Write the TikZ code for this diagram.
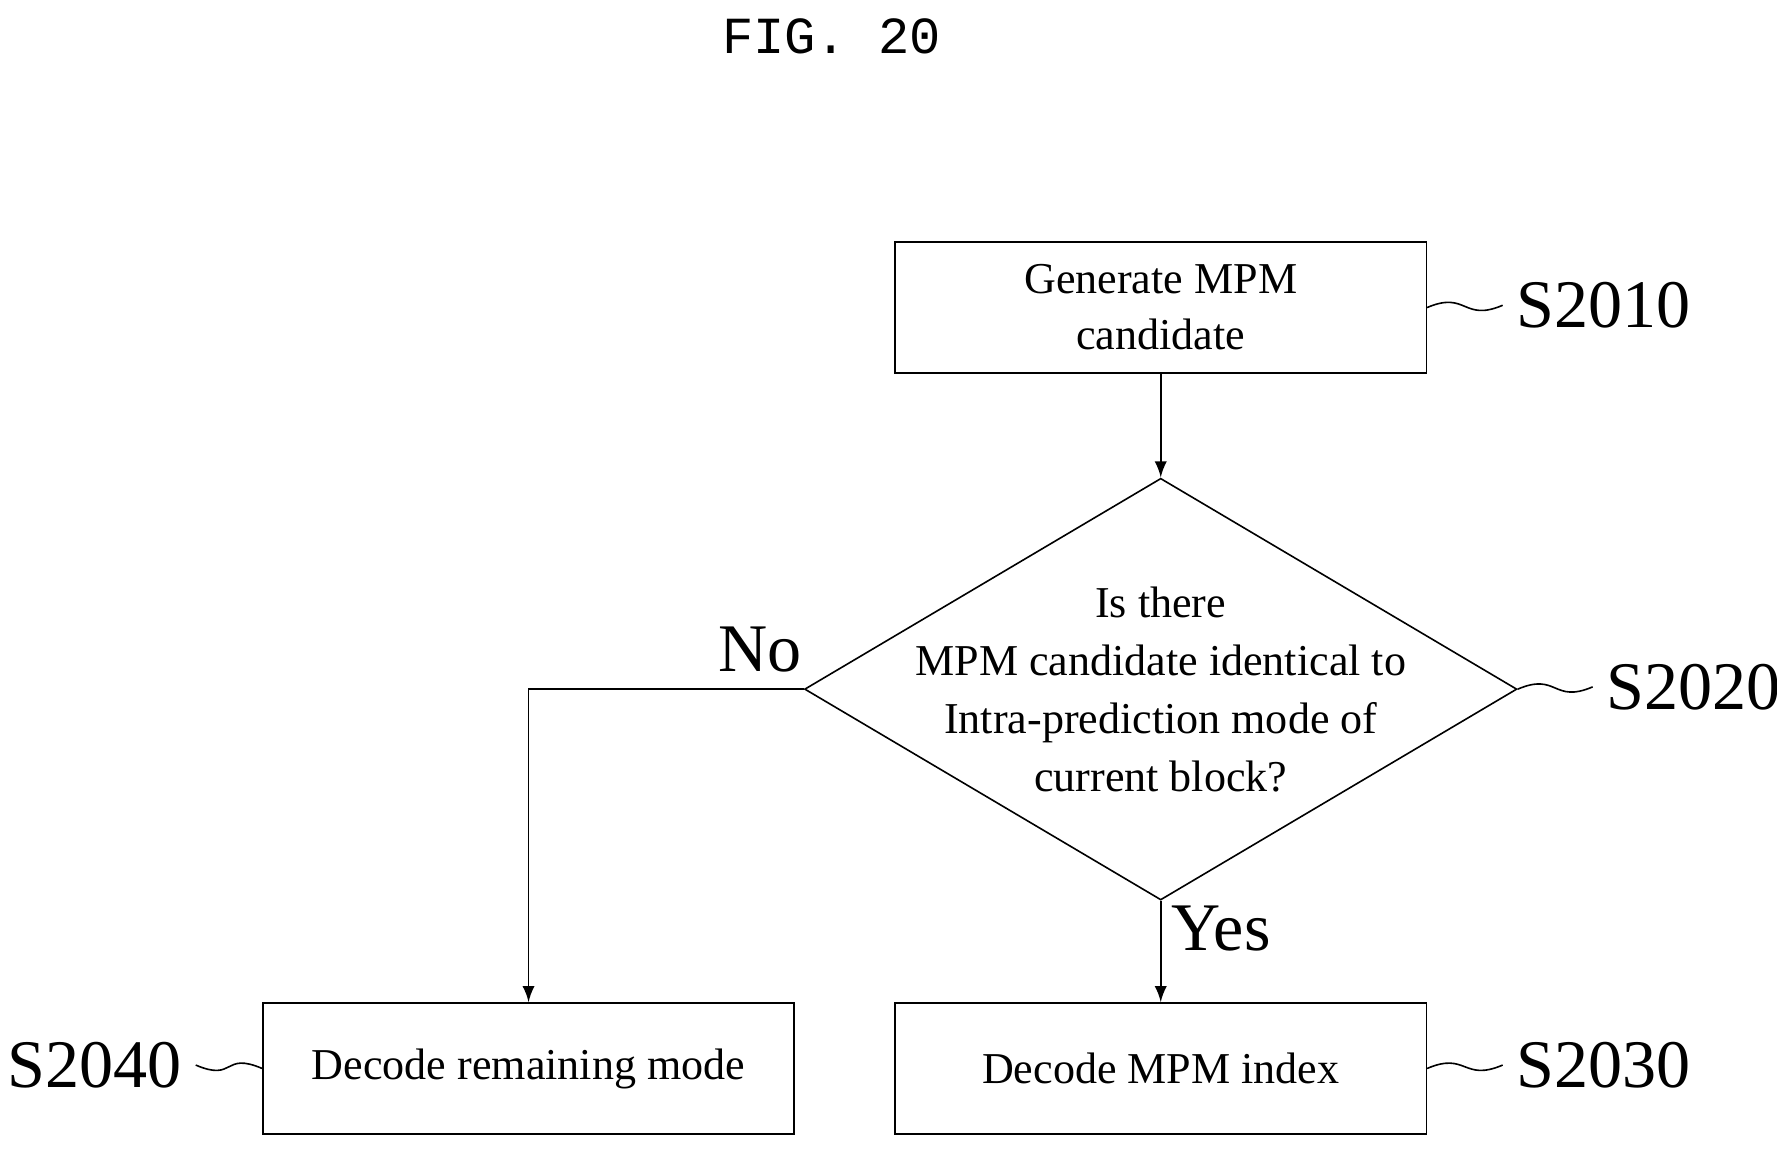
\documentclass[tikz,border=0pt]{standalone}
\usepackage{fontspec}
\setmainfont{Liberation Serif}
\setmonofont{Liberation Mono}
\usetikzlibrary{shapes.geometric}
\tikzset{
  procbox/.style={draw,minimum width=4.66cm,minimum height=1.15cm,align=center,font=\fontsize{11}{14}\selectfont},
  lbl/.style={font=\fontsize{17}{17}\selectfont},
  flow/.style={-latex}
}
\begin{document}
\begin{tikzpicture}[x=0.01cm,y=-0.01cm]
\useasboundingbox (0,0) rectangle (1560,1010);
\node[font=\ttfamily\fontsize{13}{13}\selectfont] (title) at (730,32) {FIG. 20};

\node[procbox] (gen) at (1019,270) {Generate MPM\\candidate};
\node[draw,diamond,aspect=1.69,minimum width=6.25cm,minimum height=3.7cm,inner sep=0pt] (dec) at (1019,605) {};
\node[align=center,font=\fontsize{11}{14.5}\selectfont] (dectext) at (1019,605) {Is there\\MPM candidate identical to\\Intra-prediction mode of\\current block?};
\node[procbox] (mpm) at (1019,938) {Decode MPM index};
\node[procbox] (rem) at (464,938) {Decode remaining mode};

\coordinate (corner) at (464,605);
\draw[flow] (gen) -- (dec.north);
\draw[flow] (dec.south) -- (mpm);
\draw[flow] (dec.west) -- (corner) -- (rem);

\node[lbl] (no) at (667,570) {No};
\node[lbl] (yes) at (1072,815) {Yes};

% step labels
\node[lbl] (s2010) at (1408,268) {S2010};
\node[lbl] (s2020) at (1487,603) {S2020};
\node[lbl] (s2030) at (1408,935) {S2030};
\node[lbl] (s2040) at (83,935) {S2040};
\draw (gen.east) .. controls +(35,-15) and +(-35,15) .. (s2010.west);
\draw (dec.east) .. controls +(35,-15) and +(-35,15) .. (s2020.west);
\draw (mpm.east) .. controls +(35,-15) and +(-35,15) .. (s2030.west);
\draw (s2040.east) .. controls +(35,15) and +(-35,-15) .. (rem.west);
\end{tikzpicture}
\end{document}
